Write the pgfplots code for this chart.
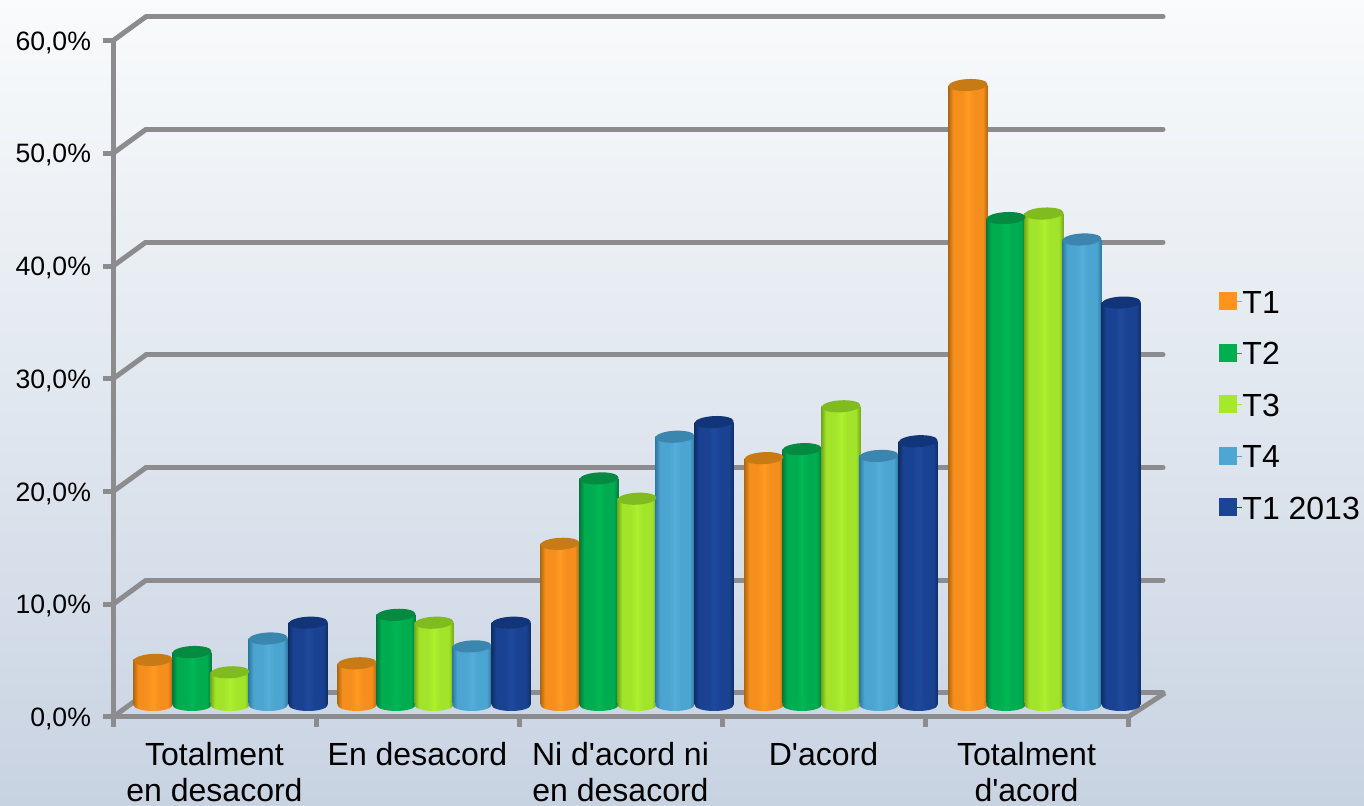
\documentclass[border=0pt]{standalone}
\usepackage{fontspec}
\setmainfont{Liberation Sans}
\usepackage{pgfplots}
\pgfplotsset{compat=1.18}
\usetikzlibrary{shapes.geometric}

\definecolor{frameGray}{HTML}{8C8C8E}
\definecolor{bgTop}{HTML}{F9FBFC}
\definecolor{bgBottom}{HTML}{C8D3E2}
\definecolor{cOrange}{HTML}{FF931E}
\definecolor{cGreen}{HTML}{00B050}
\definecolor{cLime}{HTML}{A6E82A}
\definecolor{cBlue}{HTML}{4EA6D2}
\definecolor{cNavy}{HTML}{1A4496}

% cylinder side: dark edges, flat lighter middle
\newcommand{\cylshade}[4]{%
  \pgfdeclarehorizontalshading{#1}{100bp}{%
    color(0bp)=(#2); color(25bp)=(#2); color(31bp)=(#3); color(42bp)=(#3);
    color(50bp)=(#4); color(58bp)=(#3); color(69bp)=(#3); color(75bp)=(#2); color(100bp)=(#2)}}
\definecolor{oE}{HTML}{B26A12}\definecolor{oM}{HTML}{F58E1C}\definecolor{oC}{HTML}{FF9A22}\definecolor{oT}{HTML}{C87A14}
\definecolor{gE}{HTML}{067A3C}\definecolor{gM}{HTML}{00AC50}\definecolor{gC}{HTML}{00B854}\definecolor{gT}{HTML}{058A42}
\definecolor{lE}{HTML}{76AA1C}\definecolor{lM}{HTML}{A2E42A}\definecolor{lC}{HTML}{ACF02E}\definecolor{lT}{HTML}{80BC20}
\definecolor{bE}{HTML}{2E7BA2}\definecolor{bM}{HTML}{4CA4D0}\definecolor{bC}{HTML}{54AEDA}\definecolor{bT}{HTML}{3A86AE}
\definecolor{nE}{HTML}{0F2F68}\definecolor{nM}{HTML}{1A4292}\definecolor{nC}{HTML}{1E4A9E}\definecolor{nT}{HTML}{123478}
\cylshade{cylO}{oE}{oM}{oC}
\cylshade{cylG}{gE}{gM}{gC}
\cylshade{cylL}{lE}{lM}{lC}
\cylshade{cylB}{bE}{bM}{bC}
\cylshade{cylN}{nE}{nM}{nC}

% one bar: #1 x, #2 value, #3 shading, #4 colour of the cap
\newcommand{\cyl}[4]{%
  \addplot[only marks, mark=none, draw=none, nodes near coords={},
    nodes near coords style={ellipse, anchor=center, inner sep=0pt, minimum width=19.5pt,
      minimum height=6pt, shade, shading=#3}]
    coordinates {(#1,0)};
  \addplot[ybar, bar width=19.5pt, bar shift=0pt, draw=none, shade, shading=#3]
    coordinates {(#1,#2)};
  \addplot[only marks, mark=none, draw=none, nodes near coords={},
    nodes near coords style={ellipse, anchor=center, inner sep=0pt, minimum width=19.5pt,
      minimum height=6pt, rotate=3, fill=#4}]
    coordinates {(#1,#2)};
}

\pgfplotsset{chartbase/.style={
  scale only axis, width=507.5pt, height=338.15pt,
  xmin=0, xmax=5, ymin=0, ymax=60, clip=false,
}}

\begin{document}
\begin{tikzpicture}[x=0.5pt, y=0.5pt]
\useasboundingbox (0,0) rectangle (1364,806);
\shade[top color=bgTop, bottom color=bgBottom] (0,0) rectangle (1364,806);

% back wall
\begin{axis}[chartbase, at={(73pt,56.5pt)}, width=508.5pt,
  axis line style={draw=none}, xtick=\empty, ytick={0,10,...,60}, yticklabels={},
  major tick length=0pt, ymajorgrids,
  grid style={frameGray, line width=2.5pt, line cap=round}]
\end{axis}

% side wall
\foreach \v in {0,...,6}
  \draw[frameGray, line width=2.5pt] (113,89+\v*112.72) -- ++(33,24);
\draw[frameGray, line width=2.5pt] (1128,89) -- (1165,113);

% front frame, ticks, labels, legend
\begin{axis}[chartbase, at={(56.5pt,44.5pt)},
  axis x line*=bottom, axis y line*=left,
  axis line style={frameGray, line width=2.5pt},
  tick align=outside, major tick length=5pt,
  tick style={frameGray, line width=2.5pt},
  ytick={0,10,...,60},
  yticklabels={{0,0\%},{10,0\%},{20,0\%},{30,0\%},{40,0\%},{50,0\%},{60,0\%}},
  yticklabel style={font=\fontsize{13.3}{16}\selectfont, text=black, xshift=-2.5pt, yshift=-1pt},
  xtick={0,...,5}, x tick label as interval,
  xticklabels={{Totalment\\en desacord},{En desacord},{Ni d\textquotesingle acord ni\\en desacord},{D\textquotesingle acord},{Totalment\\d\textquotesingle acord}},
  xticklabel style={font=\fontsize{16}{18}\selectfont, text=black, align=center, anchor=north, yshift=-4pt},
  legend style={at={(1.083,0.4615)}, anchor=west, draw=none, fill=none,
    row sep=14.25pt, font=\fontsize{16}{18}\selectfont,
    nodes={inner sep=0pt, text height=11.5pt, text depth=0pt}},
  legend cell align=left,
  legend image code/.code={\fill[#1] (0pt,-4pt) rectangle (8.5pt,4.5pt); \path (0pt,0pt) -- (11.5pt,0pt);},
]
\addlegendimage{cOrange}\addlegendentry{T1}
\addlegendimage{cGreen}\addlegendentry{T2}
\addlegendimage{cLime}\addlegendentry{T3}
\addlegendimage{cBlue}\addlegendentry{T4}
\addlegendimage{cNavy}\addlegendentry{T1 2013}
\end{axis}

% cylinders
\begin{axis}[chartbase, at={(56.5pt,50.5pt)}, axis lines=none]
% T1
\cyl{0.197}{4.0}{cylO}{oT}
\cyl{1.202}{3.7}{cylO}{oT}
\cyl{2.202}{14.3}{cylO}{oT}
\cyl{3.207}{21.9}{cylO}{oT}
\cyl{4.212}{55.0}{cylO}{oT}
% T2
\cyl{0.389}{4.7}{cylG}{gT}
\cyl{1.394}{8.0}{cylG}{gT}
\cyl{2.394}{20.1}{cylG}{gT}
\cyl{3.394}{22.7}{cylG}{gT}
\cyl{4.399}{43.2}{cylG}{gT}
% T3
\cyl{0.576}{2.9}{cylL}{lT}
\cyl{1.581}{7.3}{cylL}{lT}
\cyl{2.581}{18.3}{cylL}{lT}
\cyl{3.586}{26.5}{cylL}{lT}
\cyl{4.586}{43.6}{cylL}{lT}
% T4
\cyl{0.764}{5.9}{cylB}{bT}
\cyl{1.768}{5.2}{cylB}{bT}
\cyl{2.768}{23.8}{cylB}{bT}
\cyl{3.773}{22.1}{cylB}{bT}
\cyl{4.773}{41.3}{cylB}{bT}
% T1 2013
\cyl{0.961}{7.3}{cylN}{nT}
\cyl{1.961}{7.3}{cylN}{nT}
\cyl{2.961}{25.1}{cylN}{nT}
\cyl{3.966}{23.4}{cylN}{nT}
\cyl{4.966}{35.7}{cylN}{nT}
\end{axis}
\end{tikzpicture}
\end{document}
